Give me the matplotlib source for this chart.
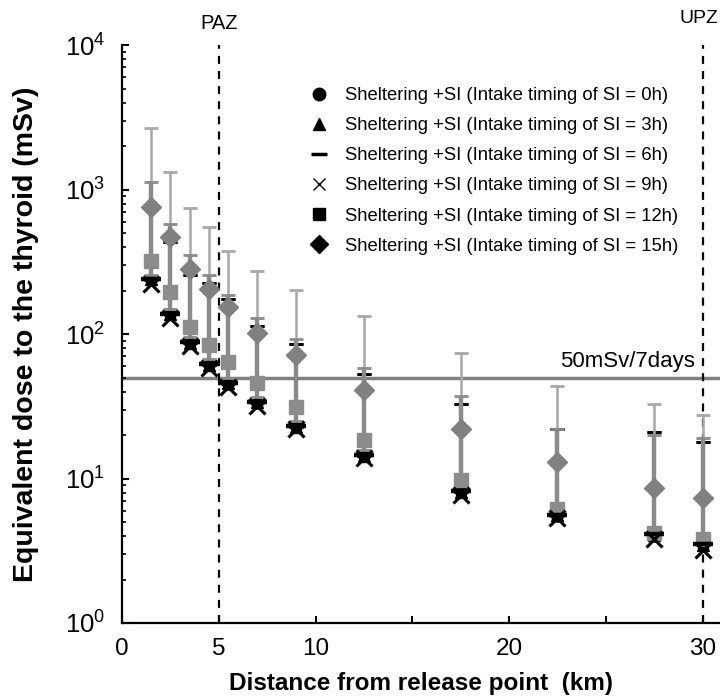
import matplotlib
matplotlib.use("Agg")
import matplotlib.pyplot as plt
from matplotlib.lines import Line2D
import numpy as np

plt.rcParams['font.family'] = ['Liberation Sans', 'DejaVu Sans']
plt.rcParams['mathtext.fontset'] = 'custom'
plt.rcParams['mathtext.rm'] = 'Liberation Sans'
plt.rcParams['mathtext.it'] = 'Liberation Sans'

# ---- data ----
distance = [1.5, 2.5, 3.5, 4.5, 5.5, 7, 9, 12.5, 17.5, 22.5, 27.5, 30]
dose_0h = [238, 137, 87, 61, 45, 33.5, 22.8, 14.3, 8.1, 5.5, 4.0, 3.45]
dose_3h = [239, 137, 87, 61, 45.5, 33.6, 22.8, 14.4, 8.1, 5.55, 4.05, 3.45]
dose_6h = [240, 138, 88, 62, 46, 34, 23, 14.5, 8.2, 5.6, 4.1, 3.5]
dose_9h = [222, 130, 83, 58, 43, 32, 22, 13.8, 7.7, 5.3, 3.8, 3.2]
dose_12h = [320, 195, 112, 84, 64, 45.6, 31.4, 18.5, 9.8, 6.2, 4.2, 3.8]
dose_15h = [760, 470, 280, 204, 153, 101, 71, 41, 22, 13.1, 8.6, 7.3]
upper_black = [760, 430, 256, 226, 175, 114, 85, 53, 33, 22, 21, 18]
upper_12h = [1120, 580, 350, 258, 186, 130, 93, 58, 37, 22, 20, 19]
upper_15h = [2650, 1330, 750, 550, 375, 272, 202, 133, 74, 44, 33, 27.5]
lower_12h = [258, 148, 95, 67, 50, 36.5, 25, 15.7, 8.9, 6.1, 4.2, 3.7]
labels = ["Sheltering +SI (Intake timing of SI = 0h)",
          "Sheltering +SI (Intake timing of SI = 3h)",
          "Sheltering +SI (Intake timing of SI = 6h)",
          "Sheltering +SI (Intake timing of SI = 9h)",
          "Sheltering +SI (Intake timing of SI = 12h)",
          "Sheltering +SI (Intake timing of SI = 15h)"]
threshold = 50
paz, upz = 5, 30

x = np.array(distance)

fig = plt.figure(figsize=(7.2, 7.0), dpi=100)
ax = fig.add_axes([0.1694, 0.11, 0.8306, 0.8257])
ax.set_yscale('log')
ax.set_xlim(0, 30.9)
ax.set_ylim(1, 1e4)

# black series with black error bars (drawn below)
for vals, m, ms in [(dose_0h, 'o', 8), (dose_3h, '^', 8)]:
    v = np.array(vals)
    ax.errorbar(x, v, yerr=[np.zeros_like(v), np.array(upper_black) - v], fmt=m,
                color='black', ms=ms, ecolor='black', elinewidth=1.5, capsize=5,
                capthick=2, zorder=2)

# 12h: grey thick error bars
v12 = np.array(dose_12h)
ax.errorbar(x, v12, yerr=[v12 - np.array(lower_12h), np.array(upper_12h) - v12],
            fmt='none', ecolor='#8a8a8a', elinewidth=3.2, capsize=5, capthick=2, zorder=3)
# 15h: light grey thin
v15 = np.array(dose_15h)
ax.errorbar(x, v15, yerr=[np.zeros_like(v15), np.array(upper_15h) - v15],
            fmt='none', ecolor='#a8a8a8', elinewidth=1.8, capsize=5, capthick=2, zorder=2.5)

ax.plot(x, dose_12h, 's', color='#8c8c8c', ms=10, zorder=4)
ax.plot(x, dose_15h, 'D', color='#808080', ms=10.5, zorder=4)
ax.plot(x, dose_9h, 'x', color='black', ms=11, mew=2.2, zorder=5)
ax.plot(x, dose_6h, '_', color='black', ms=14, mew=3.2, zorder=5)

# reference lines
ax.axhline(threshold, color='#808080', lw=2.5, zorder=1)
ax.text(29.6, threshold * 1.1, "50mSv/7days", ha='right', va='bottom', fontsize=16)
ax.axvline(paz, color='black', lw=1.6, ls=(0, (3.6, 3.2)), zorder=1)
ax.axvline(upz, color='black', lw=1.6, ls=(0, (3.6, 3.2)), zorder=1)
ax.text(paz, 1.21e4, 'PAZ', ha='center', va='bottom', fontsize=14.5, clip_on=False)
ax.text(upz - 0.2, 1.33e4, 'UPZ', ha='center', va='bottom', fontsize=14, clip_on=False)

# axes styling
for s in ['top', 'right']:
    ax.spines[s].set_visible(False)
for s in ['left', 'bottom']:
    ax.spines[s].set_linewidth(1.6)
ax.set_xticks([0, 5, 10, 15, 20, 25, 30])
ax.set_xticklabels(['0', '5', '10', '', '20', '', '30'])
ax.set_yticks([1, 10, 100, 1000, 10000])
ax.set_yticklabels([r'$10^{0}$', r'$10^{1}$', r'$10^{2}$', r'$10^{3}$', r'$10^{4}$'])
ax.tick_params(axis='both', which='major', direction='in', length=5, width=1.5)
ax.tick_params(axis='x', labelsize=17.5, pad=11)
ax.tick_params(axis='y', labelsize=18.5, pad=12)
ax.tick_params(axis='y', which='minor', direction='in', length=3, width=1.2)

ax.set_xlabel("Distance from release point  (km)", fontsize=17.5, fontweight='bold')
ax.set_ylabel("Equivalent dose to the thyroid (mSv)", fontsize=20.5, fontweight='bold')
ax.xaxis.set_label_coords(0.5, -0.084)
ax.yaxis.set_label_coords(-0.138, 0.5)

# legend with black proxy markers
handles = [Line2D([], [], ls='none', marker='o', color='black', ms=9),
           Line2D([], [], ls='none', marker='^', color='black', ms=8.5),
           Line2D([], [], ls='none', marker='_', color='black', ms=12, mew=2.5),
           Line2D([], [], ls='none', marker='x', color='black', ms=9, mew=1),
           Line2D([], [], ls='none', marker='s', color='black', ms=9),
           Line2D([], [], ls='none', marker='D', color='black', ms=9)]
ax.legend(handles, labels, loc='upper left', bbox_to_anchor=(0.298, 0.94), frameon=False,
          fontsize=13.3, handlelength=1.2, handletextpad=0.8, labelspacing=0.71,
          borderaxespad=0)

fig.savefig('out.png', dpi=100)
